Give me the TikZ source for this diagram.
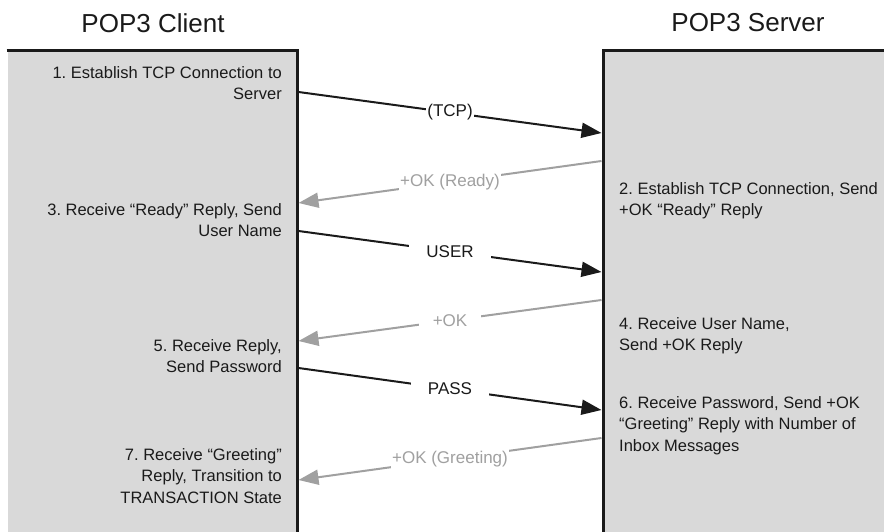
\documentclass[tikz,border=0pt]{standalone}
\usepackage{fontspec}
\setmainfont{Liberation Sans}
\usetikzlibrary{arrows.meta}
\definecolor{boxgray}{HTML}{D9D9D9}
\definecolor{msggray}{HTML}{A0A0A0}
\definecolor{ink}{HTML}{1A1A1A}
\frenchspacing
\begin{document}
\begin{tikzpicture}[x=1pt,y=-1pt,
  title/.style={font=\fontsize{26}{30}\selectfont, text=ink, inner sep=0pt},
  ctext/.style={font=\fontsize{16.5}{21.5}\selectfont, align=right, anchor=north east, inner sep=0pt, text=ink},
  stext/.style={font=\fontsize{16.5}{21.5}\selectfont, align=left, anchor=north west, inner sep=0pt, text=ink},
  lane/.style={line width=3pt, draw=ink},
  msg/.style={line width=2pt, -{Triangle[length=20pt,width=15pt]}},
  req/.style={msg, draw=ink},
  rep/.style={msg, draw=msggray},
  lbl/.style={fill=white, font=\fontsize{17}{20}\selectfont, inner ysep=2pt, inner xsep=#1},
  lbl/.default=1pt]
\useasboundingbox (0,0) rectangle (884,532);
% lanes
\fill[boxgray] (8,51) rectangle (297,532);
\fill[boxgray] (603,51) rectangle (884,532);
\draw[lane] (6.5,51) -- (297,51) -- (297,533);
\draw[lane] (603,533) -- (603,51) -- (885,51);
% titles
\node[title] (tc) at (153,23) {POP3 Client};
\node[title] (ts) at (748,23) {POP3 Server};
% client steps
\node[ctext] (c1) at (282,66) {1. Establish TCP Connection to\\Server};
\node[ctext] (c3) at (282,203) {3. Receive “Ready” Reply, Send\\User Name};
\node[ctext] (c5) at (282,339) {5. Receive Reply,\\Send Password};
\node[ctext] (c7) at (282,448) {7. Receive “Greeting”\\Reply, Transition to\\TRANSACTION State};
% server steps
\node[stext] (s2) at (619,182) {2. Establish TCP Connection, Send\\+OK “Ready” Reply};
\node[stext] (s4) at (619,317) {4. Receive User Name,\\Send +OK Reply};
\node[stext] (s6) at (619,396) {6. Receive Password, Send +OK\\“Greeting” Reply with Number of\\Inbox Messages};
% message endpoints
\coordinate (m1a) at (298.5,92);  \coordinate (m1b) at (601.5,133);
\coordinate (m2a) at (601.5,161); \coordinate (m2b) at (298.5,203);
\coordinate (m3a) at (298.5,231); \coordinate (m3b) at (601.5,272);
\coordinate (m4a) at (601.5,300); \coordinate (m4b) at (298.5,341);
\coordinate (m5a) at (298.5,368); \coordinate (m5b) at (601.5,410);
\coordinate (m6a) at (601.5,438); \coordinate (m6b) at (298.5,480);
% messages
\draw[req] (m1a) -- node[lbl, text=ink] (l1) {(TCP)} (m1b);
\draw[rep] (m2a) -- node[lbl, text=msggray] (l2) {+OK (Ready)} (m2b);
\draw[req] (m3a) -- node[lbl=17pt, text=ink] (l3) {USER} (m3b);
\draw[rep] (m4a) -- node[lbl=14pt, text=msggray] (l4) {+OK} (m4b);
\draw[req] (m5a) -- node[lbl=17pt, text=ink] (l5) {PASS} (m5b);
\draw[rep] (m6a) -- node[lbl, text=msggray] (l6) {+OK (Greeting)} (m6b);
\end{tikzpicture}
\end{document}
